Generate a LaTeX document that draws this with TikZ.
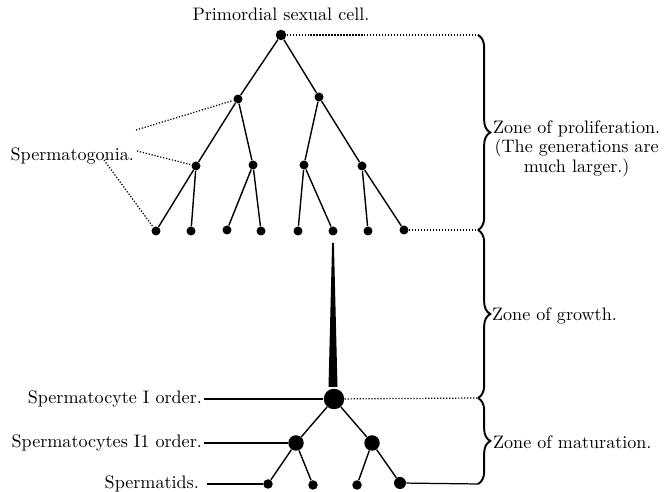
\documentclass[tikz,border=0pt]{standalone}
\usepackage{tikz}
\usetikzlibrary{positioning, decorations.pathreplacing, calc}

\begin{document}
\begin{tikzpicture}[
  x=0.02cm, y=-0.02cm,
  cell/.style={circle, fill=black, inner sep=0pt, minimum size=0.18cm},
  branch/.style={line width=0.8pt},
  guide/.style={densely dotted, line width=0.7pt},
  pointer/.style={line width=0.7pt},
  zone/.style={decorate, decoration={brace, amplitude=7pt}, line width=1.1pt},
  lbl/.style={font=\fontsize{10.3}{9.6}\selectfont, inner sep=1pt}
]
\useasboundingbox (0,0) rectangle (670,492);

% ── Zone of proliferation ────────────────────────────────────
\node[cell, minimum size=0.21cm] (p) at (281,35) {};
\node[cell] (a1) at (238,99)  {};
\node[cell] (a2) at (319,97)  {};
\node[cell] (b1) at (196,166) {};
\node[cell] (b2) at (253,165) {};
\node[cell] (b3) at (304,165) {};
\node[cell] (b4) at (362,166) {};
\node[cell] (c1) at (156,231) {};
\node[cell] (c2) at (191,231) {};
\node[cell] (c3) at (227,230) {};
\node[cell] (c4) at (261,231) {};
\node[cell] (c5) at (298,231) {};
\node[cell] (c6) at (333,231) {};
\node[cell] (c7) at (368,231) {};
\node[cell] (c8) at (404,230) {};

\draw[branch] (p)  -- (a1);
\draw[branch] (p)  -- (a2);
\draw[branch] (a1) -- (b1);
\draw[branch] (a1) -- (b2);
\draw[branch] (a2) -- (b3);
\draw[branch] (a2) -- (b4);
\draw[branch] (b1) -- (c1);
\draw[branch] (b1) -- (c2);
\draw[branch] (b2) -- (c3);
\draw[branch] (b2) -- (c4);
\draw[branch] (b3) -- (c5);
\draw[branch] (b3) -- (c6);
\draw[branch] (b4) -- (c7);
\draw[branch] (b4) -- (c8);

\node[lbl, above=0.13cm of p] (prim) {Primordial sexual cell.};
\node[lbl, anchor=east] (sg) at (136,156) {Spermatogonia.};
\coordinate (sg1) at (136,130);
\coordinate (sg2) at (137,151);
\coordinate (sg3) at (104,160);
\draw[guide] (sg1) -- (a1);
\draw[guide] (sg2) -- (b1);
\draw[guide] (sg3) -- (c1);

% ── Zone of growth ───────────────────────────────────────────
\coordinate (gt) at (333,243);
\coordinate (gb) at (333,387);
\fill ($(gt)+(-0.9,0)$) -- ($(gt)+(0.9,0)$) -- ($(gb)+(4.5,0)$) -- ($(gb)+(-4.5,0)$) -- cycle;

% ── Zone of maturation ───────────────────────────────────────
\node[cell, minimum size=0.41cm] (m0) at (334,399) {};
\node[cell, minimum size=0.31cm] (m1) at (296,443) {};
\node[cell, minimum size=0.31cm] (m2) at (372,443) {};
\node[cell, minimum size=0.19cm] (t1) at (268,484) {};
\node[cell, minimum size=0.19cm] (t2) at (313,485) {};
\node[cell, minimum size=0.19cm] (t3) at (357,485) {};
\node[cell, minimum size=0.24cm] (t4) at (400,483) {};

\draw[branch] (m0) -- (m1);
\draw[branch] (m0) -- (m2);
\draw[branch] (m1) -- (t1);
\draw[branch] (m1) -- (t2);
\draw[branch] (m2) -- (t3);
\draw[branch] (m2) -- (t4);

\node[lbl, anchor=east] (sc1) at (204,399) {Spermatocyte I order.};
\node[lbl, anchor=east] (sc2) at (204,443) {Spermatocytes I1 order.};
\node[lbl, anchor=east] (st)  at (201,484) {Spermatids.};
\draw[pointer] (sc1) -- (m0);
\draw[pointer] (sc2) -- (m1);
\draw[pointer] ($(st.east)+(6,0)$) -- (t1);

% ── Braces ───────────────────────────────────────────────────
\coordinate (z1t) at (478,35);
\coordinate (z1b) at (478,230);
\coordinate (z2b) at (478,398);
\coordinate (z3b) at (478,484);
\draw[zone] (z1t) -- (z1b);
\draw[zone] (z1b) -- (z2b);
\draw[zone] (z2b) -- (z3b);

\draw[guide] (p)  -- (z1t);
\draw[guide] (c8) -- (z1b);
\draw[guide] (m0) -- (z2b);
\draw[pointer] (t4) -- (z3b);

\node[lbl, align=center, anchor=north west] (zp) at (491,119)
  {Zone of proliferation.\\(The generations are\\much larger.)};
\node[lbl, anchor=west] (zg) at (490,316) {Zone of growth.};
\node[lbl, anchor=west] (zm) at (491,442) {Zone of maturation.};
\end{tikzpicture}
\end{document}
